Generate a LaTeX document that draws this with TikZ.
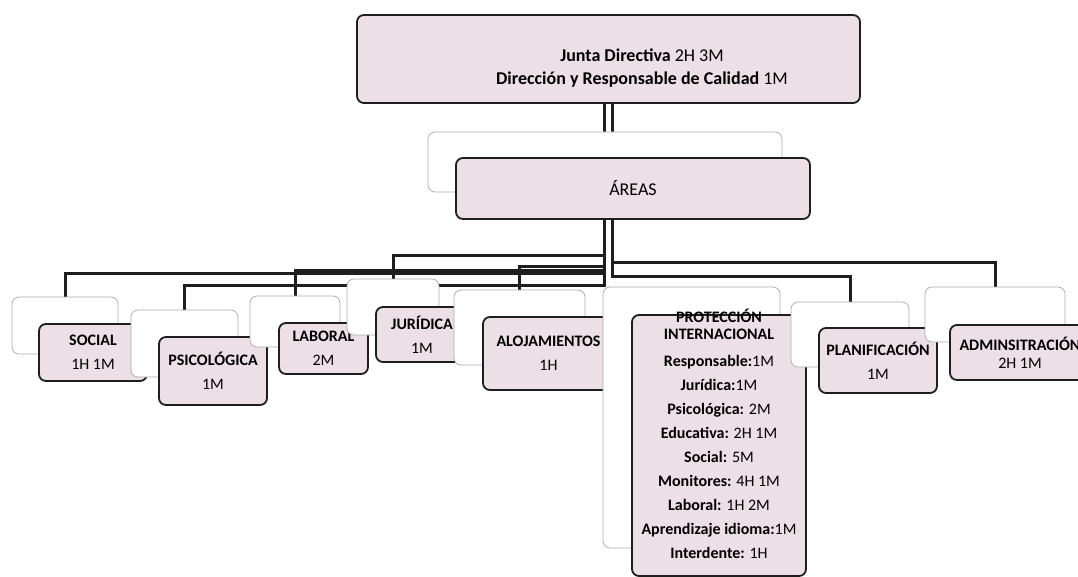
\documentclass[tikz,border=0pt]{standalone}
\usepackage{fontspec}
\setmainfont{Carlito}
\usetikzlibrary{backgrounds}
\definecolor{boxpink}{RGB}{236,223,229}
\definecolor{edgedark}{RGB}{30,30,30}
\definecolor{edgegray}{RGB}{170,170,170}

\begin{document}
\begin{tikzpicture}[
    x=1pt, y=-1pt,
    front/.style={draw=edgedark, line width=1.8pt, rounded corners=7pt,
                  fill=boxpink, align=center, inner sep=2pt,
                  font=\fontsize{16}{24}\selectfont},
    back/.style={draw=edgegray, line width=0.7pt, rounded corners=7pt, fill=white},
    conn/.style={line width=3pt, edgedark},
    ptext/.style={align=center, inner sep=0pt, font=\fontsize{16}{24}\selectfont}
  ]
    \useasboundingbox (0,0) rectangle (1078,577);
    \clip (0,0) rectangle (1078,577);
    \coordinate (tl) at (604,0);
    \coordinate (tr) at (612,0);

    %% Top level
    \node[front, minimum width=503pt, minimum height=88pt] (junta) at (608.5,59) {};
    \node[align=center, font=\fontsize{18}{23}\selectfont] (juntaT) at (642,68.5)
      {\textbf{Junta Directiva} 2H 3M\\ \textbf{Dirección y Responsable de Calidad} 1M};

    %% Areas
    \node[back, minimum width=354pt, minimum height=60pt] (areasB) at (605,162) {};
    \node[front, minimum width=354pt, minimum height=61pt, font=\fontsize{18}{22}\selectfont]
      (areas) at (633,188.5) {ÁREAS};

    %% Children, left to right
    \node[back, minimum width=106pt, minimum height=57pt] (socialB) at (65,325.5) {};
    \node[front, minimum width=108pt, minimum height=57pt] (social) at (93,352.5)
      {\textbf{SOCIAL}\\1H 1M};
    \node[back, minimum width=107pt, minimum height=67pt] (psicoB) at (184.5,343.5) {};
    \node[front, minimum width=108pt, minimum height=68pt] (psico) at (213,371)
      {\textbf{PSICOLÓGICA}\\1M};
    \node[back, minimum width=90pt, minimum height=51pt] (laboralB) at (295,321.5) {};
    \node[front, minimum width=89pt, minimum height=51pt] (laboral) at (323.5,348.5)
      {\textbf{LABORAL}\\2M};
    \node[back, minimum width=92pt, minimum height=56pt] (juridB) at (393,307) {};
    \node[front, minimum width=92pt, minimum height=55pt] (jurid) at (422,334.5)
      {\textbf{JURÍDICA}\\1M};
    \node[back, minimum width=131pt, minimum height=75pt] (alojB) at (519.5,327.5) {};
    \node[front, minimum width=131pt, minimum height=73pt] (aloj) at (548.5,353.5)
      {\textbf{ALOJAMIENTOS}\\1H};
    \node[back, minimum width=177pt, minimum height=261pt] (protB) at (691.5,417.5) {};
    \node[front, minimum width=174pt, minimum height=261pt] (prot) at (719,445.5) {};
    \node[ptext, anchor=north] (protT) at (719,309)
      {\textbf{PROTECCIÓN}\\[-7pt]\textbf{INTERNACIONAL}\\[3pt]
       \textbf{Responsable:}1M\\ \textbf{Jurídica:}1M\\ \textbf{Psicológica:} 2M\\
       \textbf{Educativa:} 2H 1M\\ \textbf{Social:} 5M\\ \textbf{Monitores:} 4H 1M\\
       \textbf{Laboral:} 1H 2M\\ \textbf{Aprendizaje idioma:}1M\\ \textbf{Interdente:} 1H};
    \node[back, minimum width=118pt, minimum height=65pt] (planB) at (850,334.5) {};
    \node[front, minimum width=118pt, minimum height=65pt] (plan) at (878,360.5)
      {\textbf{PLANIFICACIÓN}\\1M};
    \node[back, minimum width=140pt, minimum height=55pt] (adminB) at (995,314.5) {};
    \node[front, minimum width=140pt, minimum height=55pt] (admin) at (1020,352.5)
      {\textbf{ADMINSITRACIÓN}\\[-6pt]2H 1M};

    %% Connectors behind the boxes
    \begin{pgfonlayer}{background}
      \fill[white] (0,0) rectangle (1078,577);
      \draw[conn] (junta.south -| tl) -- (areasB.north -| tl);
      \draw[conn] (junta.south -| tr) -- (areasB.north -| tr);
      \draw[conn] (areas.south -| tl) -- (protB.north -| tl);
      \draw[conn] (areas.south -| tl) |- ([yshift=23pt]socialB.north) -- (socialB.north);
      \draw[conn] (areas.south -| tl) |- ([yshift=24pt]psicoB.north) -- (psicoB.north);
      \draw[conn] (areas.south -| tl) |- ([yshift=25pt]laboralB.north) -- (laboralB.north);
      \draw[conn] (areas.south -| tl) |- ([yshift=23pt]juridB.north) -- (juridB.north);
      \draw[conn] (areas.south -| tl) |- ([yshift=23pt]alojB.north) -- (alojB.north);
      \draw[conn] (areas.south -| tr) |- ([yshift=25pt]planB.north) -- (planB.north);
      \draw[conn] (areas.south -| tr) |- ([yshift=24pt]adminB.north) -- (adminB.north);
    \end{pgfonlayer}
  \end{tikzpicture}
\end{document}
